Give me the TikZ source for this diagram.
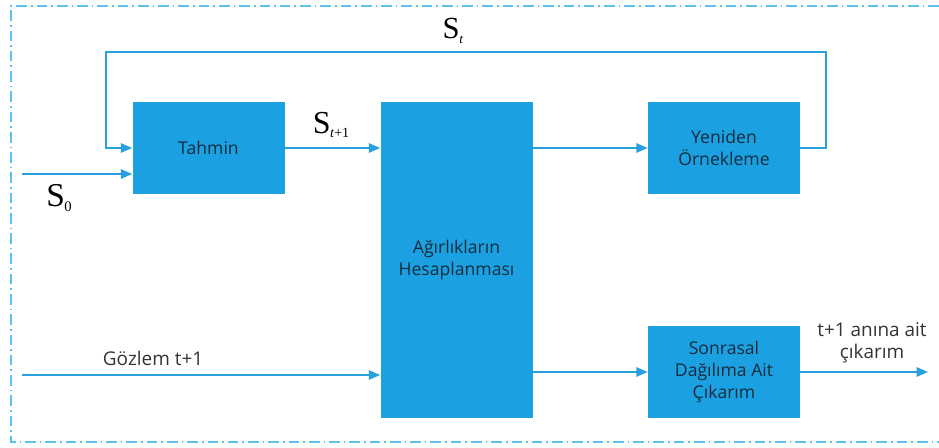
\documentclass[tikz,border=0pt]{standalone}
\usepackage{fontspec}
\setmainfont{Open Sans}
\newfontfamily\serifS{Liberation Serif}
\usetikzlibrary{arrows.meta}
\definecolor{boxblue}{HTML}{1BA1E2}
\definecolor{lineblue}{HTML}{2A9FDD}
\definecolor{frameblue}{HTML}{5BC2EE}
\definecolor{txtdark}{HTML}{152B3C}
% serif state symbol S with a small lowered index
\newcommand{\stlabel}[3]{{\serifS\fontsize{#1}{#1}\selectfont S\kern-0.3pt\raisebox{-0.3ex}{\fontsize{#2}{#2}\selectfont #3}}}
\begin{document}
\begin{tikzpicture}[x=0.75pt,y=-0.75pt,
  blk/.style={rectangle, fill=boxblue, draw=none, minimum width=114pt,
    minimum height=69pt, align=center, text=txtdark,
    font=\fontsize{13.2}{16.5}\selectfont, inner sep=0pt},
  flow/.style={draw=lineblue, line width=1.3pt,
    -{Triangle[length=8.5pt,width=7pt]}},
  lbl/.style={text=black!80, font=\fontsize{14.2}{16.5}\selectfont, align=center, inner sep=0pt}]
\useasboundingbox (0,0) rectangle (939,448);
% dash-dot frame
\draw[frameblue, line width=1.3pt, dash pattern=on 8pt off 3pt on 1.2pt off 3pt]
  (939,6) -- (11,6) -- (11,442) -- (939,442);
% blocks
\node[blk] (tahmin) at (208.5,148) {Tahmin};
\node[blk, minimum height=237pt] (agirlik) at (456.5,260) {Ağırlıkların\\Hesaplanması};
\node[blk] (yeniden) at (724,148) {Yeniden\\Örnekleme};
\node[blk] (sonrasal) at (724,372) {Sonrasal\\Dağılıma Ait\\Çıkarım};
% free ends
\coordinate (s0in) at (22,174);
\coordinate (gozin) at (22,375);
\coordinate (out) at (928,372);
\coordinate (fbR) at (826,148);
\coordinate (fbTR) at (826,52);
\coordinate (fbTL) at (106,52);
% connectors
\draw[flow] (tahmin.east) -- (agirlik.west |- tahmin.east);
\draw[flow] (agirlik.east |- yeniden.west) -- (yeniden.west);
\draw[flow] (yeniden.east) -- (fbR) -- (fbTR) -- (fbTL) -- (fbTL |- tahmin.west) -- (tahmin.west);
\draw[flow] (s0in) -- (tahmin.west |- s0in);
\draw[flow] (gozin) -- (agirlik.west |- gozin);
\draw[flow] (agirlik.east |- sonrasal.west) -- (sonrasal.west);
\draw[flow] (sonrasal.east) -- (out);
% labels
\node[inner sep=0pt] (lst) at (453,31) {\stlabel{23}{10}{\textit{t}}};
\node[inner sep=0pt] (lst1) at (331,125) {\stlabel{24}{10.5}{\textit{t}+1}};
\node[inner sep=0pt] (ls0) at (59,198) {\stlabel{25}{11}{0}};
\node[lbl] (lgoz) at (153,358) {Gözlem t+1};
\node[lbl] (lout) at (872,343) {t+1 anına ait\\çıkarım};
\end{tikzpicture}
\end{document}
